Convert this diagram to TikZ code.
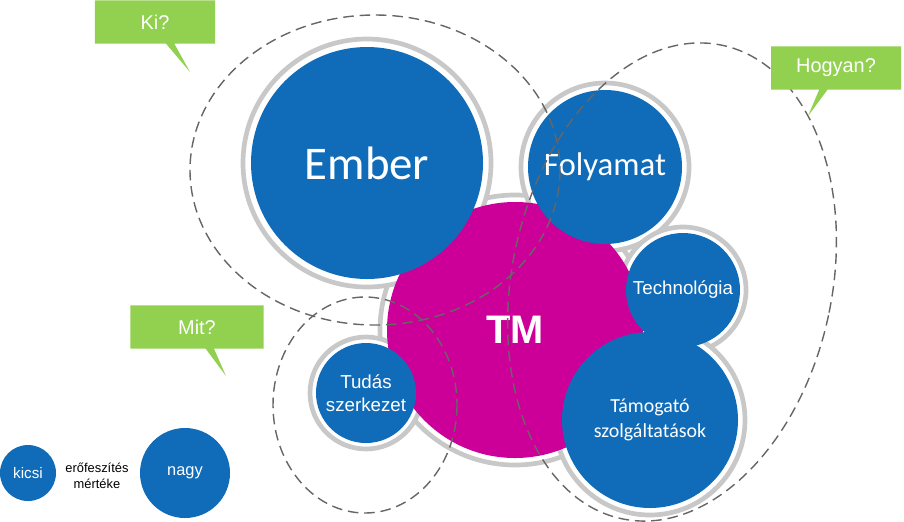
\documentclass[tikz,border=0pt]{standalone}
\usepackage{fontspec}
\setmainfont{Carlito}
\newfontfamily\arialf{Liberation Sans}
\usetikzlibrary{positioning,shapes.callouts}
\definecolor{tmblue}{RGB}{16,108,184}
\definecolor{tmpink}{RGB}{204,0,153}
\definecolor{tmgreen}{RGB}{146,208,80}
\definecolor{tmring}{RGB}{200,200,200}
\tikzset{
  bubble/.style={circle, fill=tmblue, text=white, align=center, inner sep=0pt},
  ringed/.style={circle, fill=white, draw=tmring, line width=4pt, inner sep=0pt},
  zone/.style={dashed, draw=gray!80!black, line width=1.2pt, dash pattern=on 9pt off 5pt},
  ask/.style={rectangle callout, fill=tmgreen, text=white, minimum width=3.6cm,
    minimum height=1.3cm, font=\arialf\fontsize{17}{20}\selectfont}
}
\begin{document}
\begin{tikzpicture}[x=0.03cm,y=-0.03cm]
  \useasboundingbox (0,0) rectangle (904,521);

  % rings
  \node[ringed, minimum size=270*0.03cm] at (515,330) {};
  \node[ringed, minimum size=248*0.03cm] at (367,163) {};
  \node[ringed, minimum size=168*0.03cm] at (605,167) {};
  \node[ringed, minimum size=126*0.03cm] at (683,290) {};
  \node[ringed, minimum size=190*0.03cm] at (650,420) {};
  \node[ringed, minimum size=112*0.03cm] at (366,393) {};

  % bubbles
  \node[bubble, fill=tmpink, minimum size=256*0.03cm,
        font=\arialf\bfseries\fontsize{34}{38}\selectfont] (tm) at (515,330) {TM};
  \node[bubble, minimum size=232*0.03cm, font=\fontsize{40}{44}\selectfont] (ember) at (367,163) {Ember};
  \node[bubble, minimum size=154*0.03cm, font=\fontsize{28}{32}\selectfont] (folyamat) at (605,167) {Folyamat};
  \node[bubble, minimum size=114*0.03cm, font=\arialf\fontsize{16}{19}\selectfont] (tech) at (683,290) {Technológia};
  \node[bubble, minimum size=176*0.03cm, font=\fontsize{17}{22}\selectfont] (tamogato) at (650,420) {Támogató\\szolgáltatások};
  \node[bubble, minimum size=100*0.03cm, font=\arialf\fontsize{16}{20}\selectfont] (tudas) at (366,393) {Tudás\\szerkezet};

  % legend
  \node[bubble, minimum size=56*0.03cm, font=\arialf\fontsize{13}{15}\selectfont] (kicsi) at (28,473) {kicsi};
  \node[bubble, minimum size=90*0.03cm, font=\arialf\fontsize{14}{16}\selectfont] (nagy) at (185,473) {nagy};
  \node[align=center, font=\arialf\fontsize{11}{14}\selectfont] (merteke) at (97,476) {erőfeszítés\\mértéke};

  % zones
  \draw[zone] (375,170) ellipse [x radius=185, y radius=155];
  \draw[zone, rotate around={-12:(672,282)}] (672,282) ellipse [x radius=160, y radius=242];
  \draw[zone] (365,405) ellipse [x radius=92, y radius=108];

  % questions
  \node[ask, callout absolute pointer={(190,72)}] (ki) at (155,22) {Ki?};
  \node[ask, minimum width=3.9cm, callout absolute pointer={(808,116)}] (hogyan) at (836,68) {Hogyan?};
  \node[ask, minimum width=4cm, callout absolute pointer={(226,376)}] (mit) at (197,327) {Mit?};
\end{tikzpicture}
\end{document}
